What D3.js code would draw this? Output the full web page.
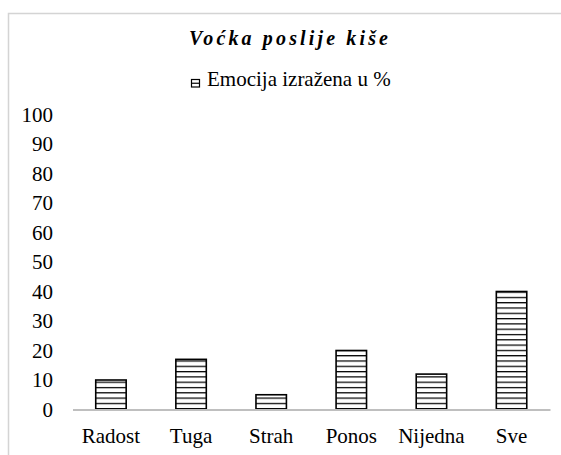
<!DOCTYPE html>
<html>
<head>
<meta charset="utf-8">
<script src="https://cdn.jsdelivr.net/npm/d3@7"></script>
<style>
  body { margin: 0; background: #fff; }
</style>
</head>
<body>
<svg id="chart"></svg>
<script>
/* chart data */
const categories = ["Radost", "Tuga", "Strah", "Ponos", "Nijedna", "Sve"];
const values = [10, 17, 5, 20, 12, 40];
const yTicks = [0, 10, 20, 30, 40, 50, 60, 70, 80, 90, 100];
const title = "Voćka poslije kiše";
const seriesName = "Emocija izražena u %";

/* display parameters */
const width = 561,
  height = 455,
  plot_left = 72.5,
  plot_right = 550,
  plot_bottom = 409.5,
  plot_top = 114.5,
  serif = "'Liberation Serif', 'Times New Roman', serif";

let svg = d3.select("#chart").attr("width", width).attr("height", height);

// hatch pattern (horizontal lines)
let defs = svg.append("defs");
let pat = defs
  .append("pattern")
  .attr("id", "hatch")
  .attr("patternUnits", "userSpaceOnUse")
  .attr("width", 8)
  .attr("height", 5.3);
pat.append("rect").attr("width", 8).attr("height", 5.3).attr("fill", "#fff");
pat
  .append("line")
  .attr("x1", 0)
  .attr("x2", 8)
  .attr("y1", 0.6)
  .attr("y2", 0.6)
  .attr("stroke", "#000")
  .attr("stroke-width", 1.3);

// outer frame (top + left only visible)
svg
  .append("path")
  .attr("d", "M8.5,455 V13.5 H561")
  .attr("fill", "none")
  .attr("stroke", "#d4d4d4")
  .attr("stroke-width", 1.5);

/* scales */
const x = d3
  .scaleBand()
  .domain(categories)
  .range([plot_left, plot_right])
  .paddingInner(0.62)
  .paddingOuter(0.29);
const y = d3.scaleLinear().domain([0, 100]).range([plot_bottom, plot_top]);

/* title */
svg
  .append("text")
  .attr("x", 189)
  .attr("y", 45)
  .attr("textLength", 199)
  .attr("lengthAdjust", "spacing")
  .style("font-family", serif)
  .style("font-size", "20px")
  .style("font-weight", "bold")
  .style("font-style", "italic")
  .text(title);

/* legend */
let legend = svg.append("g").attr("transform", "translate(191,79)");
legend
  .append("rect")
  .attr("x", 0.5)
  .attr("y", 0.5)
  .attr("width", 8)
  .attr("height", 7.5)
  .attr("fill", "#fff")
  .attr("stroke", "#000")
  .attr("stroke-width", 1.2);
legend
  .append("line")
  .attr("x1", 0.5)
  .attr("x2", 8.5)
  .attr("y1", 4.25)
  .attr("y2", 4.25)
  .attr("stroke", "#000")
  .attr("stroke-width", 1.2);
legend
  .append("text")
  .attr("x", 16)
  .attr("y", 7)
  .style("font-family", serif)
  .style("font-size", "21px")
  .text(seriesName);

/* y axis (labels only) */
let y_axis = svg
  .append("g")
  .attr("transform", "translate(" + plot_left + ",0)")
  .call(d3.axisLeft(y).tickValues(yTicks).tickSize(0).tickPadding(19.5));
y_axis.select(".domain").remove();
y_axis
  .selectAll("text")
  .style("font-family", serif)
  .style("font-size", "21px")
  .attr("fill", "#000");

/* bars */
svg
  .append("g")
  .selectAll("rect")
  .data(categories)
  .join("rect")
  .attr("x", d => x(d))
  .attr("y", (d, i) => y(values[i]))
  .attr("width", x.bandwidth())
  .attr("height", (d, i) => y(0) - y(values[i]))
  .attr("fill", "url(#hatch)")
  .attr("stroke", "#000")
  .attr("stroke-width", 1.6);

/* x axis */
let x_axis = svg
  .append("g")
  .attr("transform", "translate(0," + plot_bottom + ")")
  .call(d3.axisBottom(x).tickSize(0).tickPadding(0));
x_axis.select(".domain").attr("stroke", "#bfbfbf").attr("stroke-width", 1.8);
x_axis
  .selectAll("text")
  .attr("dy", null)
  .attr("y", 33.8)
  .style("font-family", serif)
  .style("font-size", "21px")
  .attr("fill", "#000");
</script>
</body>
</html>
